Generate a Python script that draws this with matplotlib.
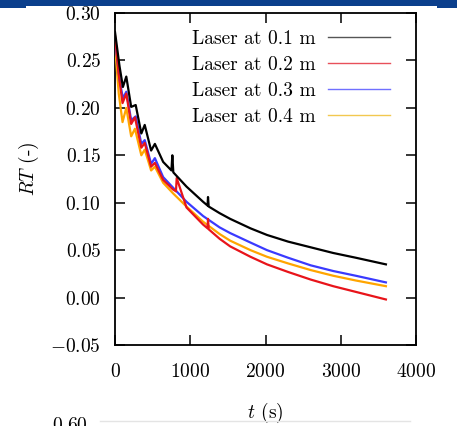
'''
Reflectance decay RT(t) for four laser positions
'''
import matplotlib
matplotlib.use('Agg')
import matplotlib.pyplot as plt
from matplotlib.lines import Line2D
from matplotlib.patches import Rectangle
from matplotlib.ticker import FuncFormatter, MultipleLocator

plt.rcParams['font.family'] = 'cmr10'
plt.rcParams['mathtext.fontset'] = 'cm'
plt.rcParams['axes.formatter.use_mathtext'] = True

# values (t in s, RT in -)
labels = ['Laser at 0.1 m', 'Laser at 0.2 m', 'Laser at 0.3 m', 'Laser at 0.4 m']
colors = ['#000000', '#e8141a', '#3a3aff', '#ffa500']
legend_colors = ['#555555', '#e8505a', '#7070ff', '#f2c850']

t_01 = [0, 60, 105, 150, 215, 275, 350, 395, 480, 530, 640, 750, 762, 775, 950,
        1170, 1230, 1236, 1245, 1390, 1530, 1800, 2020, 2300, 2600, 2900, 3200, 3600]
rt_01 = [0.280, 0.244, 0.222, 0.233, 0.201, 0.203, 0.173, 0.182, 0.155, 0.162, 0.143,
         0.134, 0.150, 0.132, 0.117, 0.101, 0.097, 0.106, 0.096, 0.089, 0.083, 0.073,
         0.066, 0.059, 0.053, 0.047, 0.042, 0.035]

t_02 = [0, 50, 100, 150, 215, 265, 350, 395, 480, 530, 640, 770, 810, 820, 950,
        1170, 1230, 1236, 1245, 1390, 1530, 1800, 2020, 2300, 2600, 2900, 3200, 3600]
rt_02 = [0.276, 0.235, 0.205, 0.215, 0.183, 0.190, 0.158, 0.163, 0.138, 0.142, 0.124,
         0.114, 0.112, 0.126, 0.095, 0.077, 0.073, 0.083, 0.072, 0.062, 0.054, 0.043,
         0.035, 0.027, 0.019, 0.012, 0.006, -0.002]

t_03 = [0, 60, 105, 150, 215, 275, 350, 395, 480, 530, 640, 770, 950, 1170, 1390,
        1530, 1800, 2020, 2300, 2600, 2900, 3200, 3600]
rt_03 = [0.272, 0.230, 0.210, 0.217, 0.187, 0.191, 0.162, 0.166, 0.141, 0.147, 0.127,
         0.116, 0.101, 0.086, 0.074, 0.068, 0.058, 0.050, 0.042, 0.034, 0.028, 0.023,
         0.016]

t_04 = [0, 50, 100, 150, 215, 265, 350, 395, 480, 530, 640, 770, 950, 1170, 1390,
        1530, 1800, 2020, 2300, 2600, 2900, 3200, 3600]
rt_04 = [0.265, 0.215, 0.185, 0.200, 0.170, 0.178, 0.150, 0.156, 0.134, 0.138, 0.121,
         0.110, 0.096, 0.080, 0.067, 0.060, 0.050, 0.043, 0.036, 0.029, 0.023, 0.018,
         0.012]

series = [(t_01, rt_01), (t_02, rt_02), (t_03, rt_03), (t_04, rt_04)]


def main():
    fig = plt.figure(figsize=(4.57, 4.26), dpi=100)
    ax = fig.add_axes([115 / 457, 1 - 345 / 426, 301 / 457, 332 / 426])

    # draw order: black on top like the reference
    for i in [3, 2, 1, 0]:
        t, rt = series[i]
        ax.plot(t, rt, color=colors[i], lw=1.6, zorder=3 + (3 - i))

    ax.set_xlim(0, 4000)
    ax.set_ylim(-0.05, 0.30)
    ax.xaxis.set_major_locator(MultipleLocator(1000))
    ax.yaxis.set_major_locator(MultipleLocator(0.05))
    ax.yaxis.set_major_formatter(FuncFormatter(lambda v, p: r'$%.2f$' % v))
    ax.xaxis.set_major_formatter(FuncFormatter(lambda v, p: r'$%d$' % v))
    ax.tick_params(direction='in', length=7, width=1.1, labelsize=14,
                   top=True, right=True)
    ax.tick_params(axis='x', pad=13)
    ax.tick_params(axis='y', pad=10)
    for s in ax.spines.values():
        s.set_linewidth(1.3)

    ax.set_xlabel(r'$t$ (s)', fontsize=14)
    ax.set_ylabel(r'$RT$ (-)', fontsize=14)
    ax.xaxis.set_label_coords(0.5, -0.168)
    ax.yaxis.set_label_coords(-0.245, 0.53)

    handles = [Line2D([], [], color=c, lw=1.0) for c in legend_colors]
    ax.legend(handles, labels, loc='upper right', frameon=False, fontsize=14,
              markerfirst=False, handlelength=3.2, handletextpad=0.65,
              labelspacing=0.42, borderpad=0, borderaxespad=0,
              bbox_to_anchor=(0.915, 0.95))

    # dark header band at the top of the screenshot
    fig.add_artist(Rectangle((0, 1 - 6 / 426), 1, 6 / 426, transform=fig.transFigure,
                             color='#0b3f8c', lw=0))
    fig.add_artist(Rectangle((0, 1 - 7.5 / 426), 26 / 457, 7.5 / 426,
                             transform=fig.transFigure, color='#0b3f8c', lw=0))
    fig.add_artist(Rectangle((437 / 457, 1 - 7.5 / 426), 20 / 457, 7.5 / 426,
                             transform=fig.transFigure, color='#0b3f8c', lw=0))

    # top of the next panel, cut off at the bottom edge
    fig.text(52 / 457, 1 - 417 / 426, r'$0.60$', fontsize=14, va='top', ha='left')
    fig.add_artist(Line2D([100 / 457, 410 / 457], [1 - 420.5 / 426, 1 - 420.5 / 426],
                          transform=fig.transFigure, color='#e4e4e4', lw=1))

    fig.savefig('out.png', dpi=100)


if __name__ == '__main__':
    main()
